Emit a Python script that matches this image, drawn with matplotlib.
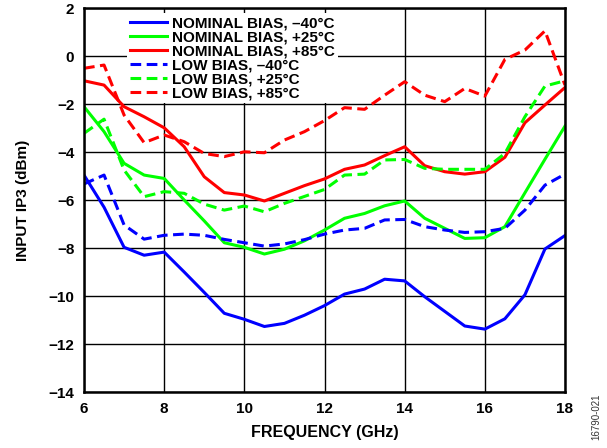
import matplotlib
matplotlib.use("Agg")
import matplotlib.pyplot as plt
import numpy as np

plt.rcParams['font.family'] = ['Liberation Sans', 'DejaVu Sans']

freq = [6, 6.5, 7, 7.5, 8, 8.5, 9, 9.5, 10, 10.5, 11, 11.5, 12, 12.5, 13,
        13.5, 14, 14.5, 15, 15.5, 16, 16.5, 17, 17.5, 18]

nom_m40 = [-4.96, -6.3, -7.97, -8.3, -8.17, -9.0, -9.85, -10.72, -10.97, -11.27,
           -11.14, -10.8, -10.4, -9.92, -9.71, -9.3, -9.37, -10.03, -10.64, -11.25,
           -11.38, -10.95, -9.95, -8.04, -7.48]
nom_p25 = [-2.11, -3.15, -4.47, -4.96, -5.1, -6.0, -6.87, -7.78, -7.97, -8.25,
           -8.05, -7.7, -7.25, -6.76, -6.56, -6.24, -6.04, -6.76, -7.18, -7.6,
           -7.57, -7.11, -5.7, -4.3, -2.92]
nom_p85 = [-1.03, -1.21, -2.11, -2.53, -2.99, -3.78, -5.03, -5.69, -5.79, -6.04,
           -5.72, -5.4, -5.12, -4.72, -4.54, -4.15, -3.78, -4.57, -4.82, -4.92,
           -4.82, -4.22, -2.78, -2.04, -1.31]
low_m40 = [-5.33, -4.96, -7.04, -7.63, -7.47, -7.42, -7.47, -7.64, -7.78, -7.92,
           -7.83, -7.65, -7.42, -7.25, -7.18, -6.83, -6.81, -7.11, -7.25, -7.35,
           -7.32, -7.18, -6.42, -5.38, -4.92]
low_p25 = [-3.22, -2.63, -4.75, -5.86, -5.65, -5.72, -6.17, -6.42, -6.25, -6.49,
           -6.14, -5.85, -5.56, -4.96, -4.92, -4.33, -4.31, -4.68, -4.72, -4.72,
           -4.72, -4.06, -2.53, -1.25, -1.03]
low_p85 = [-0.51, -0.375, -2.46, -3.61, -3.29, -3.57, -4.06, -4.19, -3.99, -4.03,
           -3.5, -3.15, -2.69, -2.15, -2.22, -1.63, -1.07, -1.63, -1.9, -1.35,
           -1.67, -0.14, 0.25, 1.05, -1.21]

labels = ["NOMINAL BIAS, –40°C", "NOMINAL BIAS, +25°C", "NOMINAL BIAS, +85°C",
          "LOW BIAS, –40°C", "LOW BIAS, +25°C", "LOW BIAS, +85°C"]
series = [nom_m40, nom_p25, nom_p85, low_m40, low_p25, low_p85]
colors = ["#0000FF", "#00FF00", "#FF0000", "#0000FF", "#00FF00", "#FF0000"]
styles = ["-", "-", "-", "--", "--", "--"]

xticks = [6, 8, 10, 12, 14, 16, 18]
yticks = [2, 0, -2, -4, -6, -8, -10, -12, -14]

fig = plt.figure(figsize=(6.07, 4.48), dpi=100)
ax = fig.add_axes([0.1384, 0.125, 0.7924, 0.857])

for y, lab, c, ls in zip(series, labels, colors, styles):
    line, = ax.plot(freq, y, color=c, linestyle=ls, linewidth=2.2, label=lab)
    if ls == "--":
        line.set_dashes((3.5, 1.8))

ax.set_xlim(6, 18)
ax.set_ylim(-14, 2)
ax.set_xticks(xticks)
ax.set_yticks(yticks)
ax.grid(True, color="black", linewidth=1.0)
ax.tick_params(length=0, pad=7, labelsize=11)
for lbl in ax.get_xticklabels() + ax.get_yticklabels():
    lbl.set_fontweight("bold")
for s in ax.spines.values():
    s.set_linewidth(1.8)

ax.set_xlabel("FREQUENCY (GHz)", fontsize=11.5, fontweight="bold", labelpad=7)
ax.set_ylabel("INPUT IP3 (dBm)", fontsize=11, fontweight="bold", labelpad=13)

leg = ax.legend(loc="upper left", bbox_to_anchor=(0.09, 0.987), frameon=True,
                fancybox=False, edgecolor="none", framealpha=1.0,
                prop={"weight": "bold", "size": 11}, labelspacing=0.0,
                handlelength=2.4, handletextpad=0.3, borderpad=0.2,
                borderaxespad=0.0)

fig.text(0.983, 0.069, "16790-021", rotation=90, fontsize=7, color="#333333",
         ha="center", va="center")

fig.savefig("out.png", dpi=100)
